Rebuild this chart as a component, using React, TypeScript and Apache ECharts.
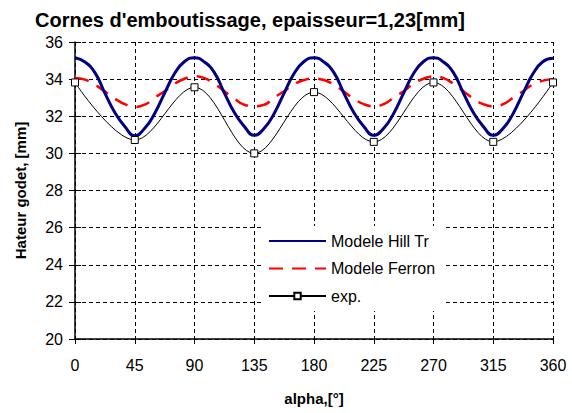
import React, { useEffect, useRef } from "react";
import * as echarts from "echarts";

const FONT = "'Liberation Sans', Arial, sans-serif";

const TITLE = "Cornes d'emboutissage, epaisseur=1,23[mm]";
const X_NAME = "alpha,[°]";
const Y_NAME = "Hateur godet, [mm]";
const SERIES_NAMES = ["Modele Hill Tr", "Modele Ferron", "exp."];

// angles (degrees) for the model curves, every 7.5°
const modelAngles = [
  0, 7.5, 15, 22.5, 30, 37.5, 45, 52.5, 60, 67.5, 75, 82.5,
  90, 97.5, 105, 112.5, 120, 127.5, 135, 142.5, 150, 157.5, 165, 172.5,
  180, 187.5, 195, 202.5, 210, 217.5, 225, 232.5, 240, 247.5, 255, 262.5,
  270, 277.5, 285, 292.5, 300, 307.5, 315, 322.5, 330, 337.5, 345, 352.5,
  360,
];

const hillValues = [
  35.15, 34.92, 34.35, 33.25, 32.2, 31.45, 30.95, 31.35, 32.15, 33.25, 34.3, 34.95,
  35.15, 34.92, 34.35, 33.25, 32.2, 31.45, 30.97, 31.35, 32.15, 33.25, 34.3, 34.95,
  35.15, 34.92, 34.35, 33.25, 32.2, 31.45, 30.97, 31.35, 32.15, 33.25, 34.3, 34.95,
  35.15, 34.92, 34.35, 33.25, 32.2, 31.45, 30.97, 31.35, 32.15, 33.25, 34.3, 34.95,
  35.12,
];

const ferronValues = [
  34.06, 33.97, 33.7, 33.33, 32.95, 32.65, 32.5, 32.62, 33.0, 33.35, 33.75, 34.02,
  34.15, 34.05, 33.75, 33.35, 32.95, 32.62, 32.54, 32.62, 33.0, 33.35, 33.72, 33.95,
  34.03, 33.95, 33.7, 33.33, 32.95, 32.65, 32.54, 32.65, 33.0, 33.35, 33.75, 34.02,
  34.15, 34.05, 33.75, 33.35, 32.95, 32.65, 32.54, 32.65, 33.0, 33.35, 33.72, 33.92,
  34.0,
];

const expAngles = [0, 45, 90, 135, 180, 225, 270, 315, 360];
const expValues = [33.82, 30.72, 33.56, 30.0, 33.3, 30.62, 33.82, 30.62, 33.82];

const xTicks = [0, 45, 90, 135, 180, 225, 270, 315, 360];

export default function App() {
  const ref = useRef<HTMLDivElement>(null);

  useEffect(() => {
    if (!ref.current) return;
    const chart = echarts.init(ref.current, null, { renderer: "svg" });

    const hill = modelAngles.map((a, i) => [a, hillValues[i]]);
    const ferron = modelAngles.map((a, i) => [a, ferronValues[i]]);
    const exp = expAngles.map((a, i) => [a, expValues[i]]);

    const gridLine = { show: true, lineStyle: { color: "#000", width: 1, type: [4, 3] as any } };

    chart.setOption({
      animation: false,
      backgroundColor: "#fff",
      textStyle: { fontFamily: FONT },
      title: {
        text: TITLE,
        left: 30,
        top: 5,
        textStyle: { fontFamily: FONT, fontSize: 20, fontWeight: "bold", color: "#000" },
      },
      grid: { left: 75, right: 19, top: 42, bottom: 74 },
      legend: {
        orient: "vertical",
        left: 262,
        top: 226,
        padding: [7, 10, 7, 6],
        backgroundColor: "#fff",
        itemWidth: 57,
        itemHeight: 8,
        itemGap: 11.5,
        textStyle: { fontFamily: FONT, fontSize: 16, color: "#000" },
        data: [
          { name: SERIES_NAMES[0], itemStyle: { opacity: 0 } },
          { name: SERIES_NAMES[1], itemStyle: { opacity: 0 } },
          { name: SERIES_NAMES[2] },
        ],
      },
      xAxis: {
        type: "value",
        min: 0,
        max: 360,
        interval: 45,
        name: X_NAME,
        nameLocation: "middle",
        nameGap: 52,
        nameTextStyle: { fontFamily: FONT, fontSize: 15, fontWeight: "bold", color: "#000" },
        axisLine: { show: true, lineStyle: { color: "#000", width: 1.5 } },
        axisTick: { show: true, length: 5, lineStyle: { color: "#000" } },
        axisLabel: {
          color: "#000",
          fontFamily: FONT,
          fontSize: 16,
          margin: 18,
          formatter: (v: number) => (xTicks.includes(v) ? String(v) : ""),
        },
        splitLine: gridLine,
      },
      yAxis: [
        {
          type: "value",
          min: 20,
          max: 36,
          interval: 2,
          name: Y_NAME,
          nameLocation: "middle",
          nameGap: 47,
          nameTextStyle: { fontFamily: FONT, fontSize: 15, fontWeight: "bold", color: "#000" },
          axisLine: { show: true, lineStyle: { color: "#000", width: 1.5 } },
          axisTick: { show: true, length: 6, lineStyle: { color: "#000" } },
          axisLabel: { color: "#000", fontFamily: FONT, fontSize: 16, margin: 12 },
          splitLine: gridLine,
        },
        {
          type: "value",
          min: 20,
          max: 36,
          interval: 2,
          position: "left",
          axisLine: { show: false },
          axisTick: { show: true, inside: true, length: 6, lineStyle: { color: "#000" } },
          axisLabel: { show: false },
          splitLine: { show: false },
        },
      ],
      series: [
        {
          name: SERIES_NAMES[0],
          type: "line",
          data: hill,
          smooth: true,
          showSymbol: false,
          symbol: "none",
          lineStyle: { color: "#000080", width: 3 },
          itemStyle: { color: "#000080" },
          z: 3,
        },
        {
          name: SERIES_NAMES[1],
          type: "line",
          data: ferron,
          smooth: true,
          showSymbol: false,
          symbol: "none",
          lineStyle: { color: "#ff0000", width: 2.5, type: [14, 9] as any },
          itemStyle: { color: "#ff0000" },
          z: 2,
        },
        {
          name: SERIES_NAMES[2],
          type: "line",
          data: exp,
          smooth: 0.35,
          symbol: "rect",
          symbolSize: 7,
          lineStyle: { color: "#000", width: 1 },
          itemStyle: { color: "#fff", borderColor: "#000", borderWidth: 1 },
          z: 4,
        },
      ],
    });

    return () => chart.dispose();
  }, []);

  return (
    <div
      ref={ref}
      style={{ position: "fixed", left: 0, top: 0, width: 572, height: 413 }}
    />
  );
}
